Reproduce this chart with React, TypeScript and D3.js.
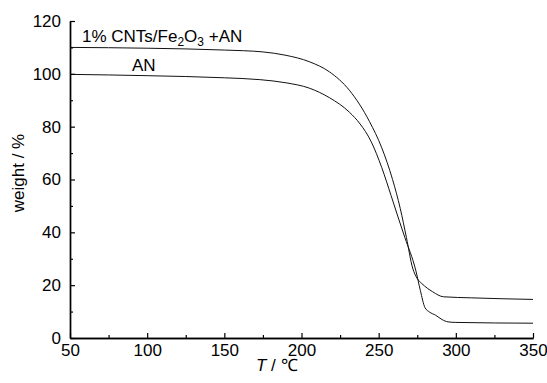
import React, { useRef, useEffect } from 'react';
import * as d3 from 'd3';

// TG curves (temperature in °C, weight in %)
const cntTemp = [50, 100, 150, 175, 190, 205, 218, 231, 244, 252, 259, 264, 268, 272, 275, 278, 285, 292, 310, 350];
const cntWeight = [110.0, 109.7, 109.0, 108.3, 107.0, 104.6, 100.8, 93.8, 82.0, 72.0, 60.0, 49.0, 38.0, 26.5, 22.5, 20.6, 17.5, 15.6, 15.2, 14.6];

const anTemp = [50, 100, 150, 173, 190, 205, 218, 231, 238, 245, 252, 258, 263, 267, 274, 277, 280, 283, 287, 291, 295, 300, 350];
const anWeight = [99.8, 99.3, 98.5, 97.8, 96.6, 94.6, 91.0, 85.5, 81.0, 74.5, 64.5, 54.0, 45.0, 38.0, 25.7, 18.0, 11.5, 9.8, 8.6, 7.0, 6.1, 5.9, 5.6];

const xMajor = [50, 100, 150, 200, 250, 300, 350];
const xMinor = [75, 125, 175, 225, 275, 325];
const yMajor = [0, 20, 40, 60, 80, 100, 120];
const yMinor = [10, 30, 50, 70, 90, 110];

const W = 547;
const H = 383;
const FONT = '"Liberation Sans", Arial, sans-serif';

const App = () => {
  const xAxisRef = useRef(null);
  const yAxisRef = useRef(null);

  const x = d3.scaleLinear().domain([50, 350]).range([70, 533]);
  const y = d3.scaleLinear().domain([0, 120]).range([338, 21]);

  const line = d3
    .line<[number, number]>()
    .x(d => x(d[0]))
    .y(d => y(d[1]))
    .curve(d3.curveMonotoneX);

  const cntPts = cntTemp.map((t, i) => [t, cntWeight[i]] as [number, number]);
  const anPts = anTemp.map((t, i) => [t, anWeight[i]] as [number, number]);

  useEffect(() => {
    const gx = d3.select(xAxisRef.current);
    gx.selectAll('*').remove();
    gx.append('g').call(d3.axisBottom(x).tickValues(xMajor).tickSize(-5).tickPadding(6).tickSizeOuter(0));
    gx.append('g').call(d3.axisBottom(x).tickValues(xMinor).tickSize(-3).tickFormat(() => '').tickSizeOuter(0));

    const gy = d3.select(yAxisRef.current);
    gy.selectAll('*').remove();
    gy.append('g').call(d3.axisLeft(y).tickValues(yMajor).tickSize(-5).tickPadding(9).tickSizeOuter(0));
    gy.append('g').call(d3.axisLeft(y).tickValues(yMinor).tickSize(-3).tickFormat(() => '').tickSizeOuter(0));

    [gx, gy].forEach(g => {
      g.selectAll('path.domain').attr('stroke', '#000').attr('stroke-width', 1.4);
      g.selectAll('line').attr('stroke', '#000').attr('stroke-width', 1.2);
      g.selectAll('text').attr('font-family', FONT).attr('font-size', 17).attr('fill', '#000');
      g.selectAll('g').attr('font-family', null).attr('font-size', null);
    });
  }, []);

  return (
    <svg width={W} height={H} style={{ position: 'absolute', left: 0, top: 0, background: '#fff' }}>
      <path d={line(cntPts) || ''} fill="none" stroke="#111" strokeWidth={1} />
      <path d={line(anPts) || ''} fill="none" stroke="#111" strokeWidth={1} />

      <g ref={xAxisRef} transform="translate(0,338)" />
      <g ref={yAxisRef} transform="translate(70,0)" />

      <text x={82} y={42} fontFamily={FONT} fontSize={17} fill="#000">
        1% CNTs/Fe
        <tspan fontSize={12} dy={4}>2</tspan>
        <tspan dy={-4}>O</tspan>
        <tspan fontSize={12} dy={4}>3</tspan>
        <tspan dy={-4}> +AN</tspan>
      </text>
      <text x={132} y={71} fontFamily={FONT} fontSize={17} fill="#000">AN</text>

      <text
        transform="translate(24,173) rotate(-90)"
        textAnchor="middle"
        fontFamily={FONT}
        fontSize={17}
        fill="#000"
      >
        weight / %
      </text>
      <text x={256} y={371} fontFamily={FONT} fontSize={17} fill="#000">
        <tspan fontStyle="italic">T</tspan>
        <tspan> / ℃</tspan>
      </text>
    </svg>
  );
};

export default App;
